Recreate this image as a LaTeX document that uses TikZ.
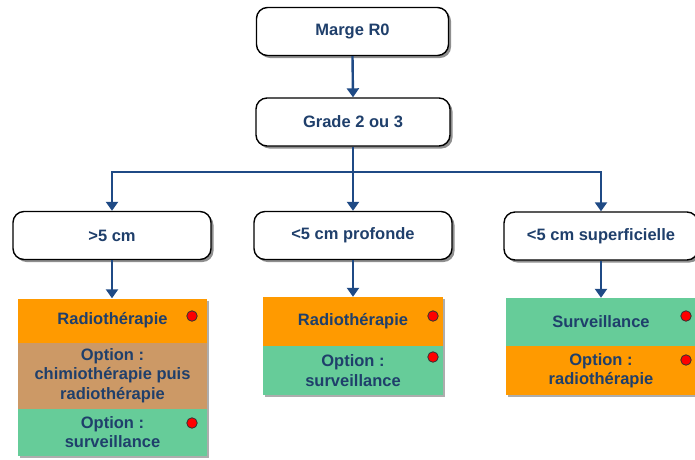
\documentclass[tikz,border=0pt]{standalone}
\usepackage{fontspec}
\setmainfont{Liberation Sans}
\usetikzlibrary{shadows,arrows.meta}
\definecolor{txt}{HTML}{1F3F6B}
\definecolor{arr}{HTML}{1F4A85}
\definecolor{orng}{HTML}{FF9A00}
\definecolor{brwn}{HTML}{CC9966}
\definecolor{grn}{HTML}{66CC99}
\definecolor{dotred}{HTML}{FF0000}
\begin{document}
\begin{tikzpicture}[x=1pt,y=-1pt,
  font=\bfseries\fontsize{16.5}{19.5}\selectfont,
  rbox/.style={draw=black, line width=1.4pt, rounded corners=11pt, fill=white, text=txt,
    drop shadow={shadow xshift=2.5pt, shadow yshift=-2.5pt, fill=black!55, opacity=0.8},
    minimum height=48pt, inner sep=0pt},
  cbox/.style={fill=#1, text=txt, align=center, inner sep=0pt,
    drop shadow={shadow xshift=2pt, shadow yshift=-2pt, fill=black!40, opacity=0.8}},
  conn/.style={draw=arr, line width=2.4pt, -{Triangle[length=9pt,width=12pt]}},
  line/.style={draw=arr, line width=2.4pt},
  rdot/.style={circle, fill=dotred, draw=black!80, line width=0.8pt, inner sep=0pt, minimum size=10.5pt}
]
\useasboundingbox (0,0) rectangle (695,459);
% top boxes
\node[rbox, minimum width=192pt] (m) at (352.5,31.5) {Marge R0};
\node[rbox, minimum width=194pt] (g) at (353,122) {Grade 2 ou 3};
% second level
\node[rbox, minimum width=198pt] (a) at (112,235.5) {>5 cm};
\node[rbox, minimum width=198pt] (b) at (353,235.5) {<5 cm profonde};
\node[rbox, minimum width=194pt] (c) at (601,236) {<5 cm superficielle};
% colored boxes left
\node[cbox=orng, minimum width=189pt, minimum height=44pt] (a1) at (112.5,320.5) {Radiothérapie};
\node[cbox=brwn, minimum width=189pt, minimum height=66pt] (a2) at (112.5,375.5) {Option :\\chimiothérapie puis\\radiothérapie};
\node[cbox=grn, minimum width=189pt, minimum height=47pt] (a3) at (112.5,432) {Option :\\surveillance};
% middle
\node[cbox=orng, minimum width=180pt, minimum height=49pt] (b1) at (353,321.5) {Radiothérapie};
\node[cbox=grn, minimum width=180pt, minimum height=49pt] (b2) at (353,370.5) {Option :\\surveillance};
% right
\node[cbox=grn, minimum width=190pt, minimum height=48pt] (c1) at (601,322) {Surveillance};
\node[cbox=orng, minimum width=190pt, minimum height=49pt] (c2) at (601,370.5) {Option :\\radiothérapie};
% dots
\node[rdot] (d1) at (192,316) {};
\node[rdot] (d2) at (192,423) {};
\node[rdot] (d3) at (433,316) {};
\node[rdot] (d4) at (433,357) {};
\node[rdot] (d5) at (686,316) {};
\node[rdot] (d6) at (686,360) {};
% connectors
\draw[conn] (m.south) -- (g.north);
\coordinate (j) at (g.south |- 0,172);
\draw[line] (g.south) -- (j);
\draw[conn] (j) -| (a.north);
\draw[conn] (j) -- (b.north -| j) ;
\draw[conn] (j) -| (c.north);
\draw[conn] (a.south) -- (a.south |- a1.north);
\draw[conn] (b.south) -- (b.south |- b1.north);
\draw[conn] (c.south) -- (c.south |- c1.north);
\end{tikzpicture}
\end{document}
